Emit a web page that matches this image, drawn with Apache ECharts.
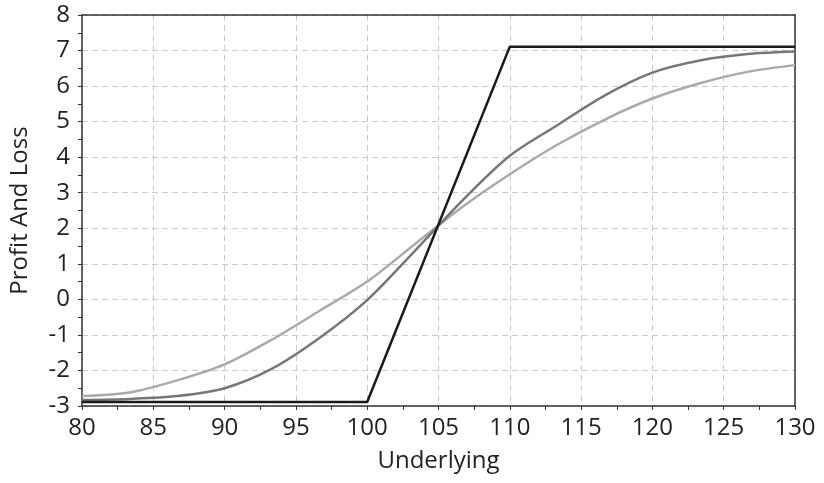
<!DOCTYPE html>
<html>
<head>
<meta charset="utf-8">
<script src="https://cdn.jsdelivr.net/npm/echarts@6/dist/echarts.min.js"></script>
<style>
html,body{margin:0;padding:0;background:#fff;}
#chart{width:824px;height:483px;}
</style>
</head>
<body>
<div id="chart"></div>
<script>
// Underlying prices
const underlying = [80, 83.33, 86.67, 90, 93.33, 96.67, 100, 103.33, 106.67, 110, 113.33, 116.67, 120, 123.33, 126.67, 130];
// Payoff at expiry (kinked line)
const expiryX = [80, 100, 110, 130];
const expiryPnL = [-2.89, -2.89, 7.11, 7.11];
// Shorter time to expiry (dark gray)
const pnlNear = [-2.83, -2.80, -2.72, -2.50, -1.95, -1.08, -0.02, 1.36, 2.78, 4.04, 4.90, 5.74, 6.38, 6.72, 6.90, 6.97];
// Longer time to expiry (light gray)
const pnlFar = [-2.72, -2.62, -2.28, -1.83, -1.13, -0.32, 0.50, 1.55, 2.60, 3.52, 4.35, 5.06, 5.65, 6.08, 6.40, 6.59];
const xTicks = {min: 80, max: 130, interval: 5};
const yTicks = {min: -3, max: 8, interval: 1};

const pair = (xs, ys) => xs.map((x, i) => [x, ys[i]]);
const FONT = '"Open Sans", "Noto Sans", sans-serif';
const chart = echarts.init(document.getElementById('chart'), null, {renderer: 'canvas'});
const frameAxis = {
  axisLine: {show: true, onZero: false, lineStyle: {color: '#333', width: 1.5}},
  axisTick: {show: false}, axisLabel: {show: false}, splitLine: {show: false}
};
chart.setOption({
  animation: false,
  backgroundColor: '#fff',
  grid: {left: 81, right: 29, top: 15, bottom: 77},
  xAxis: [{
    type: 'value', min: xTicks.min, max: xTicks.max, interval: xTicks.interval,
    name: 'Underlying', nameLocation: 'middle', nameGap: 43,
    nameTextStyle: {fontFamily: FONT, fontSize: 24, color: '#222'},
    axisLine: {onZero: false, lineStyle: {color: '#333', width: 1.5}},
    axisTick: {show: true, length: 4, lineStyle: {color: '#333'}},
    minorTick: {show: true, splitNumber: 2, length: 4, lineStyle: {color: '#333'}},
    axisLabel: {fontFamily: FONT, fontSize: 24, color: '#222', margin: 10},
    splitLine: {show: true, lineStyle: {color: '#ccc', type: [6, 4], width: 1}}
  }, Object.assign({type: 'value', position: 'top', min: xTicks.min, max: xTicks.max}, frameAxis)],
  yAxis: [{
    type: 'value', min: yTicks.min, max: yTicks.max, interval: yTicks.interval,
    name: 'Profit And Loss', nameLocation: 'middle', nameGap: 50,
    nameTextStyle: {fontFamily: FONT, fontSize: 24, color: '#222'},
    axisLine: {show: true, onZero: false, lineStyle: {color: '#333', width: 1.5}},
    axisTick: {show: true, length: 4, lineStyle: {color: '#333'}},
    minorTick: {show: true, splitNumber: 2, length: 4, lineStyle: {color: '#333'}},
    axisLabel: {fontFamily: FONT, fontSize: 24, color: '#222', margin: 12},
    splitLine: {show: true, lineStyle: {color: '#ccc', type: [6, 4], width: 1}}
  }, Object.assign({type: 'value', position: 'right', min: yTicks.min, max: yTicks.max}, frameAxis)],
  series: [
    {type: 'line', data: pair(underlying, pnlFar), showSymbol: false, smooth: 0.3, lineStyle: {color: '#aaaaaa', width: 2.5}, z: 2},
    {type: 'line', data: pair(underlying, pnlNear), showSymbol: false, smooth: 0.3, lineStyle: {color: '#777777', width: 2.5}, z: 3},
    {type: 'line', data: pair(expiryX, expiryPnL), showSymbol: false, lineStyle: {color: '#1a1a1a', width: 2.5}, z: 4}
  ]
});
</script>
</body>
</html>
